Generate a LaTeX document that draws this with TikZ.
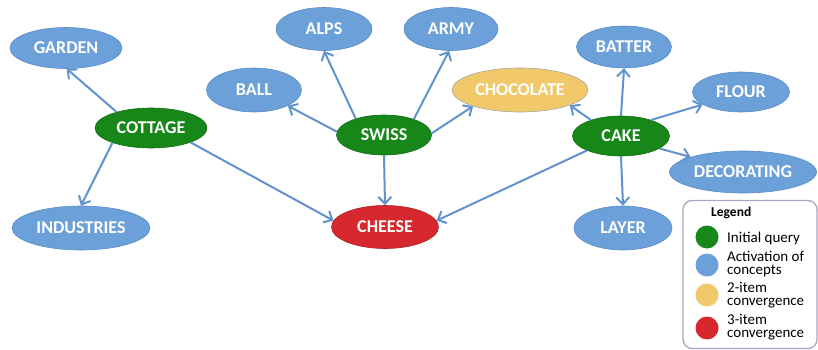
\documentclass[tikz,border=0pt]{standalone}
\usepackage{fontspec}
\setmainfont{Carlito}
\usetikzlibrary{shapes.geometric,arrows.meta}
\definecolor{cblue}{RGB}{108,160,216}
\definecolor{cblueline}{RGB}{88,140,200}
\definecolor{carrow}{RGB}{96,146,206}
\definecolor{cgreen}{RGB}{22,135,24}
\definecolor{cred}{RGB}{214,40,46}
\definecolor{cyellow}{RGB}{241,201,106}
\definecolor{cframe}{RGB}{175,165,195}
\begin{document}
\begin{tikzpicture}[x=1pt,y=-1pt,
  concept/.style={ellipse,inner sep=0pt,text=white,font=\fontsize{18}{20}\selectfont\bfseries,line width=0.6pt},
  bluec/.style={concept,fill=cblue,draw=cblueline},
  greenc/.style={concept,fill=cgreen,draw=cgreen!80!black},
  redc/.style={concept,fill=cred,draw=cred!80!black},
  yellowc/.style={concept,fill=cyellow,draw=gray!70},
  link/.style={draw=carrow,line width=2pt,-{Straight Barb[length=7pt,width=13pt,line width=2pt]}},
  dot/.style={circle,minimum size=23pt,inner sep=0pt},
  legtext/.style={anchor=west,align=left,font=\fontsize{15}{13}\selectfont,inner sep=0pt}
]
\useasboundingbox (0,0) rectangle (818,350);
% nodes
\node[bluec,minimum width=112pt,minimum height=41pt] (garden) at (66,48) {GARDEN};
\node[greenc,minimum width=112pt,minimum height=40pt] (cottage) at (151,128) {COTTAGE};
\node[bluec,minimum width=138pt,minimum height=44pt] (industries) at (81,228) {INDUSTRIES};
\node[bluec,minimum width=96pt,minimum height=43pt] (alps) at (324,29) {ALPS};
\node[bluec,minimum width=94pt,minimum height=43pt] (army) at (451,29) {ARMY};
\node[bluec,minimum width=95pt,minimum height=44pt] (ball) at (254,90) {BALL};
\node[yellowc,minimum width=136pt,minimum height=44pt] (chocolate) at (520,90) {CHOCOLATE};
\node[greenc,minimum width=95pt,minimum height=40pt] (swiss) at (384,135) {SWISS};
\node[redc,minimum width=107pt,minimum height=43pt] (cheese) at (385,227) {CHEESE};
\node[bluec,minimum width=95pt,minimum height=42pt] (batter) at (624,47) {BATTER};
\node[bluec,minimum width=97pt,minimum height=40pt] (flour) at (741,92) {FLOUR};
\node[greenc,minimum width=97pt,minimum height=40pt] (cake) at (621,136) {CAKE};
\node[bluec,minimum width=147pt,minimum height=42pt] (decorating) at (743,172) {DECORATING};
\node[bluec,minimum width=98pt,minimum height=44pt] (layer) at (623,228) {LAYER};
% connectors
\draw[link] (cottage.155) -- (garden.272);
\draw[link] (cottage.201) -- (industries.90);
\draw[link] (cottage.340) -- (cheese.173);
\draw[link] (swiss.176) -- (ball.335);
\draw[link] (swiss.150) -- (alps.270);
\draw[link] (swiss.28) -- (army.265);
\draw[link] (swiss.2) -- (chocolate.199);
\draw[link] (swiss.270) -- (cheese.90);
\draw[link] (cake.152) -- (chocolate.343);
\draw[link] (cake.203) -- (cheese.7);
\draw[link] (cake.90) -- (batter.270);
\draw[link] (cake.28) -- (flour.198);
\draw[link] (cake.342) -- (decorating.164);
\draw[link] (cake.270) -- (layer.90);
% legend
\node[draw=cframe,line width=1.3pt,rounded corners=9pt,fill=white,minimum width=134pt,minimum height=148pt,inner sep=0pt] (legend) at (750,274.5) {};
\node[anchor=west,inner sep=0pt,font=\fontsize{13.5}{14}\selectfont\bfseries] (legtitle) at (711,213) {Legend};
\node[dot,fill=cgreen] (d1) at (707,237) {};
\node[dot,fill=cblue] (d2) at (707,265) {};
\node[dot,fill=cyellow] (d3) at (707,295) {};
\node[dot,fill=cred] (d4) at (707,328) {};
\node[legtext] (t1) at (727,238) {Initial query};
\node[legtext] (t2) at (727,264) {Activation of\\concepts};
\node[legtext] (t3) at (727,295) {2-item\\convergence};
\node[legtext] (t4) at (727,327) {3-item\\convergence};
\end{tikzpicture}
\end{document}
